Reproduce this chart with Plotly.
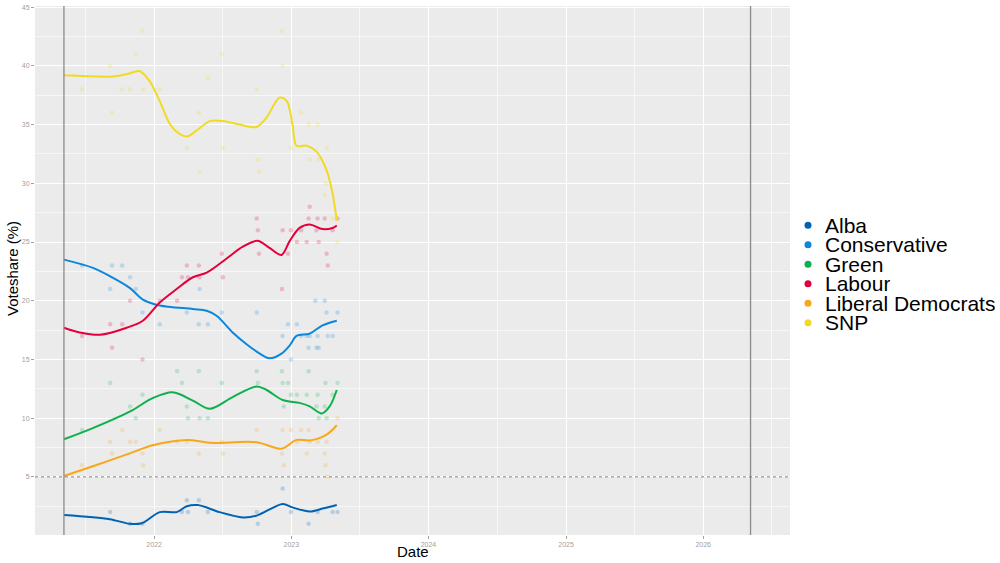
import plotly.graph_objects as go

# ---------------- data ----------------
parties = ["Alba", "Conservative", "Green", "Labour", "Liberal Democrats", "SNP"]
colors = {
    "Alba": "#0062B4",
    "Conservative": "#0A87DC",
    "Green": "#0DB04B",
    "Labour": "#E4003B",
    "Liberal Democrats": "#FAA61A",
    "SNP": "#F0DA24",
}

poll_dates = [
    "2021-06-23", "2021-09-06", "2021-09-11", "2021-10-08", "2021-10-29",
    "2021-11-13", "2021-12-01", "2021-12-03", "2022-01-16", "2022-03-03",
    "2022-03-16", "2022-03-29", "2022-04-01", "2022-04-30", "2022-05-02",
    "2022-05-24", "2022-06-30", "2022-07-03", "2022-10-01", "2022-10-04",
    "2022-10-07", "2022-12-07", "2022-12-09", "2022-12-12", "2022-12-23",
    "2022-12-31", "2023-01-16", "2023-01-27", "2023-02-11", "2023-02-16",
    "2023-02-19", "2023-03-09", "2023-03-12", "2023-03-15", "2023-03-06",
    "2023-03-31", "2023-04-02", "2023-04-05", "2023-04-08", "2023-04-21",
    "2023-05-04",
]
snp_polls = [38, 40, 36, 38, 38, 41, 43, 38, 38, None, None, 33, None, 36, 31, 39, 41, 33, 38, 32,
             31, 43, 40, None, None, 33, None, 36, None, 35, 32, None, 35, 32, None, 29, 30, 33, None, 27, 25]
con_polls = [23, 21, 23, 23, 22, 21, 19, None, 18, None, None, 19, None, 18, 21, 18, 19, None, 19, None,
             None, None, 17, None, 18, 15, 18, 17, 17, 16, 17, 16, 17, 16, 20, 20, None, 19, 17, 17, 19]
lab_polls = [17, 18, 16, 18, 20, None, 15, None, 20, 20, 22, 23, 22, 23, 22, None, 24, 22, 27, 26,
             24, 21, 26, None, 24, 26, 25, 26, 25, 27, 28, 26, 27, 25, None, 27, None, 24, 23, 26, 27]
grn_polls = [9, 13, None, None, 11, 10, 12, None, None, 14, 13, 11, 10, 14, 10, 10, 13, None, 14, 13,
             None, 14, 13, 11, 13, 12, 12, None, 12, 14, None, 11, 12, 10, None, 11, 13, 10, None, 12, 13]
ld_polls = [6, 8, 7, 9, 8, 8, 7, 6, 9, 8, None, 8, None, 7, None, None, 8, 7, 9, None,
            None, 7, 9, 6, None, 9, 8, 9, 7, 9, 8, None, 8, None, None, 7, 6, 8, 5, None, 10]
alba_polls = [None, 2, None, None, 1, None, 1, None, None, None, 2, 3, 2, 3, None, 2, None, None, 2, 1,
              None, None, 4, None, None, 2, None, None, None, 1, None, None, 2, None, None, None, None, None, None, 2, 2]

snp_trend_dates = ["2021-05-06", "2021-09-13", "2021-10-20", "2021-11-24", "2021-12-20", "2022-01-16",
                   "2022-02-12", "2022-03-10", "2022-03-31", "2022-04-24", "2022-05-29", "2022-07-03",
                   "2022-08-17", "2022-10-01", "2022-10-27", "2022-12-01", "2022-12-20", "2023-01-04",
                   "2023-01-15", "2023-02-11", "2023-03-09", "2023-04-05", "2023-04-21", "2023-05-02"]
snp_trend = [39.2, 39.1, 39.3, 39.55, 38.7, 37.0, 35.05, 34.2, 34.0, 34.5, 35.3, 35.3, 35.0, 34.8, 35.6,
             37.3, 37.0, 35.05, 33.2, 33.2, 32.7, 31.1, 29.1, 26.8]

lab_trend_dates = ["2021-05-06", "2021-06-17", "2021-08-10", "2021-10-20", "2021-12-02", "2022-01-16",
                   "2022-03-02", "2022-04-14", "2022-05-21", "2022-07-13", "2022-08-25", "2022-10-03",
                   "2022-11-04", "2022-12-06", "2022-12-28", "2023-01-23", "2023-02-19", "2023-03-25",
                   "2023-04-21", "2023-05-02"]
lab_trend = [17.7, 17.3, 17.1, 17.7, 18.3, 19.85, 21.0, 22.0, 22.4, 23.6, 24.6, 25.1, 24.5, 23.9, 25.1,
             26.2, 26.5, 26.1, 26.2, 26.4]

con_trend_dates = ["2021-05-06", "2021-07-22", "2021-09-05", "2021-10-28", "2021-12-02", "2022-01-16",
                   "2022-04-14", "2022-05-21", "2022-06-17", "2022-07-29", "2022-09-04", "2022-10-09",
                   "2022-11-04", "2022-12-06", "2022-12-28", "2023-01-15", "2023-02-19", "2023-03-25",
                   "2023-05-02"]
con_trend = [23.5, 22.8, 22.1, 21.1, 20.1, 19.6, 19.3, 19.15, 18.7, 17.3, 16.3, 15.5, 15.1, 15.5, 16.2,
             17.0, 17.2, 17.9, 18.3]

grn_trend_dates = ["2021-05-06", "2021-07-22", "2021-10-28", "2021-12-28", "2022-02-19", "2022-04-14",
                   "2022-05-29", "2022-07-29", "2022-10-01", "2022-10-27", "2022-12-09", "2023-01-23",
                   "2023-02-19", "2023-03-23", "2023-04-13", "2023-05-02"]
grn_trend = [8.2, 9.15, 10.55, 11.7, 12.2, 11.5, 10.8, 11.8, 12.7, 12.4, 11.55, 11.3, 11.0, 10.4, 11.0, 12.4]

ld_trend_dates = ["2021-05-06", "2021-07-22", "2021-10-28", "2021-12-28", "2022-03-31", "2022-05-29",
                  "2022-10-01", "2022-12-06", "2023-01-15", "2023-02-19", "2023-04-05", "2023-05-02"]
ld_trend = [5.07, 5.9, 7.0, 7.7, 8.15, 7.9, 7.95, 7.4, 8.15, 8.1, 8.6, 9.4]

alba_trend_dates = ["2021-05-06", "2021-09-05", "2021-10-28", "2021-11-29", "2022-01-16", "2022-03-02",
                    "2022-03-29", "2022-04-27", "2022-06-24", "2022-08-25", "2022-10-01", "2022-12-09",
                    "2023-01-04", "2023-02-19", "2023-03-25", "2023-05-02"]
alba_trend = [1.75, 1.4, 1.0, 1.05, 2.0, 2.0, 2.5, 2.6, 2.0, 1.55, 1.7, 2.7, 2.4, 2.05, 2.3, 2.6]

election_dates = ["2021-05-06", "2026-05-07"]
threshold = 5

year_ticks = ["2022-01-01", "2023-01-01", "2024-01-01", "2025-01-01", "2026-01-01"]
year_labels = ["2022", "2023", "2024", "2025", "2026"]
y_ticks = [5, 10, 15, 20, 25, 30, 35, 40, 45]

polls = {
    "Alba": alba_polls, "Conservative": con_polls, "Green": grn_polls,
    "Labour": lab_polls, "Liberal Democrats": ld_polls, "SNP": snp_polls,
}
trends = {
    "Alba": (alba_trend_dates, alba_trend), "Conservative": (con_trend_dates, con_trend),
    "Green": (grn_trend_dates, grn_trend), "Labour": (lab_trend_dates, lab_trend),
    "Liberal Democrats": (ld_trend_dates, ld_trend), "SNP": (snp_trend_dates, snp_trend),
}

# ---------------- figure ----------------
fig = go.Figure()

for p in parties:
    fig.add_trace(go.Scatter(
        x=poll_dates, y=polls[p], mode="markers",
        marker=dict(color=colors[p], size=4.5, opacity=0.22, line=dict(width=0)),
        showlegend=False, hoverinfo="skip",
    ))

for p in parties:
    d, v = trends[p]
    fig.add_trace(go.Scatter(
        x=d, y=v, mode="lines",
        line=dict(color=colors[p], width=2, shape="spline", smoothing=0.9),
        showlegend=False,
    ))

shapes = []
for d in election_dates:
    shapes.append(dict(type="line", xref="x", yref="paper", x0=d, x1=d, y0=0, y1=1,
                       line=dict(color="#8a8a8a", width=1.3)))
shapes.append(dict(type="line", xref="paper", yref="y", x0=0, x1=1, y0=threshold, y1=threshold,
                   line=dict(color="#666666", width=0.8, dash="3px,3px")))

# legend (drawn manually to reproduce the tight ggplot spacing)
L, R, T, B = 35, 210, 4, 28
W, H = 1000 - L - R, 563 - T - B
annotations = []
leg_y0 = 224
for i, p in enumerate(parties):
    py = leg_y0 + i * 19.6
    yp = (563 - B - py) / H
    shapes.append(dict(type="circle", xref="paper", yref="paper",
                       xsizemode="pixel", ysizemode="pixel",
                       xanchor=(808 - L) / W, yanchor=yp,
                       x0=-3.5, x1=3.5, y0=-3.5, y1=3.5,
                       fillcolor=colors[p], line=dict(width=0)))
    annotations.append(dict(text=p, xref="paper", yref="paper", x=(824 - L) / W, y=yp,
                            xanchor="left", yanchor="middle", showarrow=False,
                            height=19, borderpad=0,
                            font=dict(size=21, color="black")))

annotations.append(dict(text="Voteshare (%)", xref="paper", yref="paper",
                        x=(12 - L) / W, y=(563 - B - 268) / H, textangle=-90,
                        xanchor="center", yanchor="middle", showarrow=False,
                        font=dict(size=15, color="black")))
annotations.append(dict(text="Date", xref="paper", yref="paper",
                        x=0.5, y=(563 - B - 552) / H,
                        xanchor="center", yanchor="middle", showarrow=False,
                        height=13, borderpad=0,
                        font=dict(size=15, color="black")))

fig.update_layout(
    width=1000, height=563,
    margin=dict(l=L, r=R, t=T, b=B),
    plot_bgcolor="#EBEBEB", paper_bgcolor="white",
    font=dict(family="Liberation Sans, Arial, sans-serif"),
    showlegend=False,
    shapes=shapes, annotations=annotations,
    xaxis=dict(
        type="date", range=["2021-02-18", "2026-08-20"],
        tickvals=year_ticks, ticktext=year_labels,
        tickfont=dict(size=7, color="#a0a0a0"),
        ticks="outside", ticklen=3, tickcolor="#a0a0a0", tickwidth=1,
        showgrid=True, gridcolor="white", gridwidth=1,
        minor=dict(tickvals=["2021-07-02", "2022-07-02", "2023-07-02", "2024-07-02",
                             "2025-07-02", "2026-07-02"],
                   showgrid=True, gridcolor="rgba(255,255,255,0.6)", gridwidth=0.5, ticks=""),
        zeroline=False, showline=False,
    ),
    yaxis=dict(
        range=[0.05, 45.1],
        tickvals=y_ticks, ticktext=[str(v) for v in y_ticks],
        tickfont=dict(size=7, color="#a0a0a0"),
        ticks="outside", ticklen=3, tickcolor="#a0a0a0", tickwidth=1,
        showgrid=True, gridcolor="white", gridwidth=1,
        minor=dict(tickvals=[2.5, 7.5, 12.5, 17.5, 22.5, 27.5, 32.5, 37.5, 42.5],
                   showgrid=True, gridcolor="rgba(255,255,255,0.6)", gridwidth=0.5, ticks=""),
        zeroline=False, showline=False,
    ),
)

fig.write_html(
    "out.html",
    config={"displayModeBar": False},
    post_script="document.body.style.margin='0';document.body.style.overflow='hidden';",
)
